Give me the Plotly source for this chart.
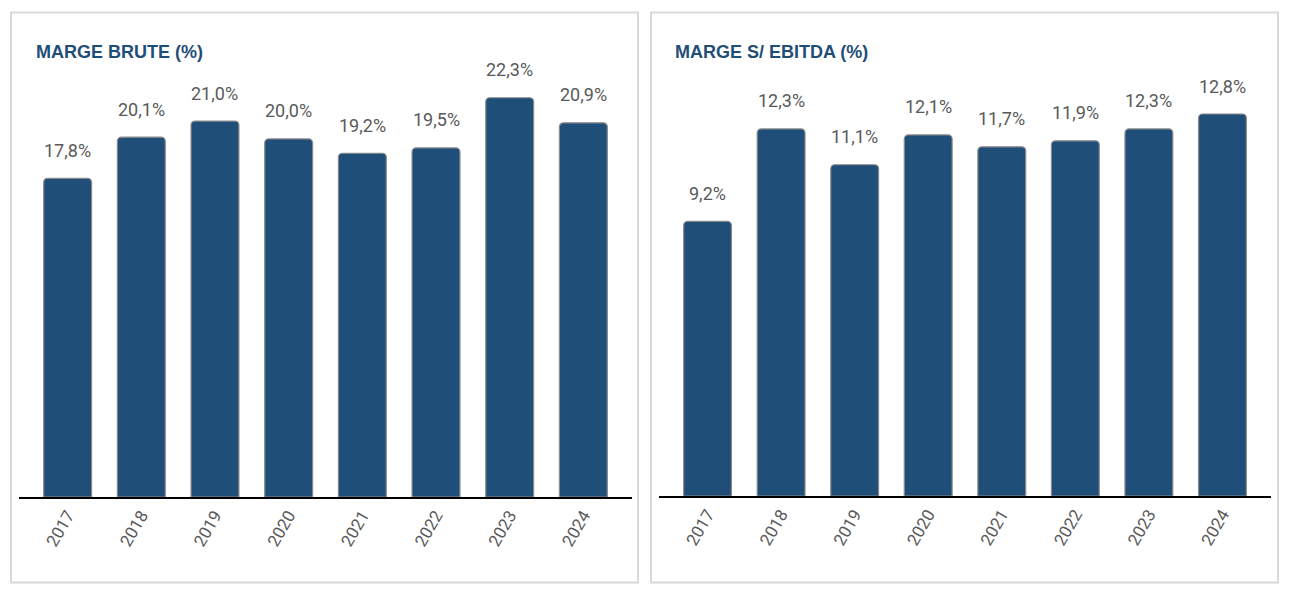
import plotly.graph_objects as go

years = ["2017", "2018", "2019", "2020", "2021", "2022", "2023", "2024"]
marge_brute = [17.8, 20.1, 21.0, 20.0, 19.2, 19.5, 22.3, 20.9]
marge_ebitda = [9.2, 12.3, 11.1, 12.1, 11.7, 11.9, 12.3, 12.8]
titles = ["MARGE BRUTE (%)", "MARGE S/ EBITDA (%)"]

# page body has an 8px margin; figure is sized to fit the 1290x594 window
OFF = 8
W, H = 1290 - 2 * OFF, 594 - 2 * OFF
BAR = "#1F4E79"
LABEL = "#595959"

def px(x):
    return (x - OFF) / W

def py(y):
    return 1 - (y - OFF) / H

fig = go.Figure()

def fmt(v):
    return f"{v:.1f}".replace(".", ",") + "%"

panels = [
    dict(vals=marge_brute, xa="x", ya="y", dom=(19, 632), base=497, top=60, rng=24.41,
         box=(11, 638), tx=34),
    dict(vals=marge_ebitda, xa="x2", ya="y2", dom=(659, 1271), base=496, top=60, rng=14.61,
         box=(651, 1278), tx=673),
]

for i, p in enumerate(panels):
    fig.add_trace(go.Bar(
        x=years, y=p["vals"], xaxis=p["xa"], yaxis=p["ya"],
        marker=dict(color=BAR, line=dict(color="#8a8a8a", width=1.2), cornerradius=4),
        width=0.65, hoverinfo="skip", showlegend=False,
    ))
    for j, v in enumerate(p["vals"]):
        fig.add_annotation(
            x=j, y=v, xref=p["xa"], yref=p["ya"], text=fmt(v), showarrow=False,
            yshift=28, yanchor="middle",
            font=dict(family="Roboto", size=18, color=LABEL),
        )
    suffix = "" if i == 0 else "2"
    fig.layout["xaxis" + suffix] = dict(
        type="category",
        domain=[px(p["dom"][0]), px(p["dom"][1])], range=[-0.66, 7.66],
        showline=True, linecolor="#000000", linewidth=1.5, showgrid=False,
        ticks="", tickangle=-60, anchor="y" + suffix,
        tickfont=dict(family="Roboto", size=17, color=LABEL), fixedrange=True,
    )
    fig.layout["yaxis" + suffix] = dict(
        domain=[py(p["base"]), py(p["top"])], range=[0, p["rng"]],
        visible=False, anchor="x" + suffix, fixedrange=True,
    )
    fig.add_shape(type="rect", xref="paper", yref="paper",
                  x0=px(p["box"][0]), x1=px(p["box"][1]), y0=py(12.5), y1=py(582.5),
                  line=dict(color="#d9d9d9", width=2), fillcolor="rgba(0,0,0,0)", layer="below")
    fig.add_annotation(
        x=px(p["tx"]), y=py(52), xref="paper", yref="paper", text="<b>" + titles[i] + "</b>",
        showarrow=False, xanchor="left", yanchor="middle",
        font=dict(family="Liberation Sans, Arial", size=18, color="#1F4E79"),
    )

fig.update_layout(
    width=W, height=H, margin=dict(l=0, r=0, t=0, b=0),
    paper_bgcolor="#ffffff", plot_bgcolor="rgba(0,0,0,0)",
    bargap=0.35,
)

fig.write_html("out.html", config={"displayModeBar": False})
